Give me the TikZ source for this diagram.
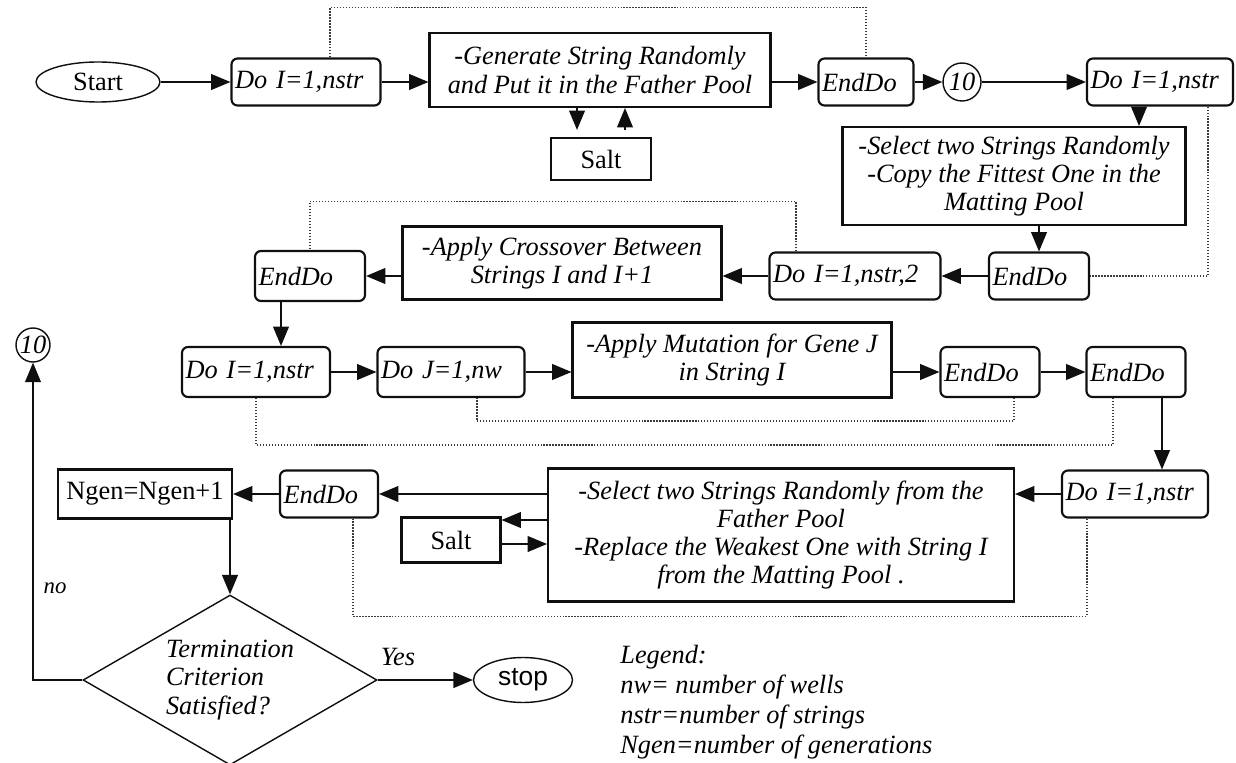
\documentclass[tikz,border=0pt]{standalone}
\usepackage{fontspec}
\setmainfont{Liberation Serif}
\newfontfamily\stopfont{Liberation Sans}
\usepackage{tikz}
\usepackage{xcolor}
\usetikzlibrary{shapes,arrows.meta,shapes.geometric}
\definecolor{ink}{RGB}{15,15,15}
\definecolor{dots}{RGB}{60,60,60}
\newcommand{\figfont}{\fontsize{15}{16}\selectfont}
\tikzstyle{flow} = [
    line width=0.8pt,
    -{Triangle[length=11pt,width=9pt]},
    draw=ink
]
\tikzstyle{loopline} = [
    densely dotted,
    line width=0.7pt,
    draw=dots
]
\tikzstyle{dobox} = [
    rectangle,
    rounded corners=1.2mm,
    minimum height=0.94cm,
    inner xsep=2pt,
    align=left,
    draw=ink,
    line width=1.2pt,
    font=\figfont\itshape
]
\tikzstyle{task} = [
    rectangle,
    align=center,
    inner sep=0pt,
    draw=ink,
    line width=1.2pt,
    font=\figfont\itshape
]

\begin{document}
\begin{tikzpicture}[x=0.02cm,y=-0.02cm]
    \useasboundingbox (0,0) rectangle (1236,763);

    % Father pool
    \node[ellipse, draw=ink, line width=0.8pt, minimum width=2.48cm, minimum height=0.8cm, inner sep=0pt, font=\figfont] (start) at (98,82) {Start};
    \node[dobox, text width=2.84cm] (doA) at (306,82) {Do I=1,nstr};
    \node[task, minimum width=6.82cm, minimum height=1.48cm] (gen) at (600,70) {-Generate String Randomly\\and Put it in the Father Pool};
    \node[task, minimum width=2cm, minimum height=0.84cm, font=\figfont] (salt1) at (601,159) {Salt};
    \node[dobox, text width=1.76cm] (endA) at (866,82) {EndDo};
    \node[circle, draw=ink, line width=0.8pt, minimum size=0.76cm, inner sep=0pt, font=\figfont\itshape] (c10) at (962,82) {10};
    \node[dobox, text width=2.78cm] (doB) at (1160,82) {Do I=1,nstr};

    % Selection
    \node[task, minimum width=6.86cm, minimum height=1.96cm] (sel1) at (1014,176) {-Select two Strings Randomly\\-Copy the Fittest One in the\\Matting Pool};

    % Crossover
    \node[dobox, text width=1.86cm] (endB) at (1039,276) {EndDo};
    \node[dobox, text width=3.28cm] (doC) at (855,276) {Do I=1,nstr,2};
    \node[task, minimum width=6.38cm, minimum height=1.46cm] (cross) at (562,263) {-Apply Crossover Between\\Strings I and I+1};
    \node[dobox, text width=2.06cm, minimum height=1cm] (endC) at (310,276) {EndDo};

    % Mutation
    \node[dobox, text width=2.82cm, minimum height=1cm] (doD) at (256,372) {Do I=1,nstr};
    \node[dobox, text width=2.8cm, minimum height=1cm] (doJ) at (451,372) {Do J=1,nw};
    \node[task, minimum width=6.38cm, minimum height=1.5cm] (mut) at (732,360) {-Apply Mutation for Gene J\\in String I};
    \node[dobox, text width=1.84cm, minimum height=1cm] (endD) at (990,372) {EndDo};
    \node[dobox, text width=1.84cm, minimum height=1cm] (endE) at (1136,372) {EndDo};

    % Replacement
    \node[dobox, text width=2.78cm] (doE) at (1135,494) {Do I=1,nstr};
    \node[task, minimum width=9.32cm, minimum height=2.66cm] (sel2) at (781,535) {-Select two Strings Randomly from the\\Father Pool\\-Replace the Weakest One with String I\\from the Matting Pool .};
    \node[task, minimum width=1.98cm, minimum height=0.9cm, font=\figfont] (salt2) at (451,540) {Salt};
    \node[dobox, text width=1.82cm] (endF) at (329,494) {EndDo};
    \node[task, minimum width=3.48cm, minimum height=0.98cm, font=\figfont] (ngen) at (145,494) {Ngen=Ngen+1};

    % Termination
    \node[diamond, draw=ink, line width=0.8pt, aspect=1.73, inner sep=0pt, align=left, minimum width=5.88cm, minimum height=3.4cm, font=\figfont\itshape] (dia) at (230,680) {Termination\\Criterion\\Satisfied?};
    \node[circle, draw=ink, line width=0.8pt, minimum size=0.68cm, inner sep=0pt, font=\figfont\itshape] (c10b) at (33,345) {10};
    \node[font=\fontsize{13}{14}\selectfont\itshape] (no) at (55,588) {no};
    \node[font=\figfont\itshape] (yes) at (398,657) {Yes};
    \node[ellipse, draw=ink, line width=0.8pt, minimum width=1.98cm, minimum height=0.9cm, inner sep=0pt, font=\figfont\stopfont] (stop) at (523,680) {stop};
    \node[anchor=north west, align=left, inner sep=0pt, font=\fontsize{15}{17}\selectfont\itshape] (legend) at (620,645) {Legend:\\nw= number of wells\\nstr=number of strings\\Ngen=number of generations};

    % First row connectors
    \draw[flow] (start) -- (doA);
    \draw[flow] (doA) -- (doA -| gen.west);
    \draw[flow] (endA -| gen.east) -- (endA);
    \draw[flow] (endA) -- (c10);
    \draw[flow] (c10) -- (doB);
    \draw[flow, shorten >=4pt] ([xshift=-0.46cm]gen.south) -- ([xshift=-0.46cm]gen.south |- salt1.north);
    \draw[flow, shorten <=4pt] ([xshift=0.5cm]gen.south |- salt1.north) -- ([xshift=0.5cm]gen.south);
    \draw[loopline] ([xshift=0.48cm]doA.north) -- ++(0,1cm) -| (endA.north);
    \draw[flow] ([xshift=-0.42cm]doB.south) -- ([xshift=-0.42cm]doB.south |- sel1.north);

    % Second row connectors
    \draw[flow] (sel1.south -| endB) -- (endB);
    \draw[loopline] ([xshift=0.96cm]doB.south) |- (endB.east);
    \draw[flow] (endB) -- (doC);
    \draw[flow] (doC) -- (doC -| cross.east);
    \draw[flow] (endC -| cross.west) -- (endC);
    \draw[loopline] ([xshift=-1.18cm]doC.north) -- ++(0,1cm) -| (endC.north);
    \draw[flow] ([xshift=-0.58cm]endC.south) -- ([xshift=-0.58cm]endC.south |- doD.north);

    % Third row connectors
    \draw[flow] (doD) -- (doJ);
    \draw[flow] (doJ) -- (doJ -| mut.west);
    \draw[flow] (endD -| mut.east) -- (endD);
    \draw[flow] (endD) -- (endE);
    \draw[loopline] ([xshift=0.48cm]endD.south) -- ++(0,-0.46cm) -| ([xshift=0.52cm]doJ.south);
    \draw[loopline] ([xshift=-0.46cm]endE.south) -- ++(0,-0.94cm) -| (doD.south);
    \draw[flow] ([xshift=0.52cm]endE.south) -- ([xshift=0.52cm]endE.south |- doE.north);

    % Fourth row connectors
    \coordinate (saltin) at ([yshift=0.4cm]salt2.east);
    \coordinate (saltout) at ([yshift=-0.08cm]salt2.east);
    \draw[flow] (doE) -- (doE -| sel2.east);
    \draw[flow] (doE -| sel2.west) -- (endF);
    \draw[flow] (endF) -- (ngen);
    \draw[flow] (saltin -| sel2.west) -- (saltin);
    \draw[flow] (saltout) -- (saltout -| sel2.west);
    \draw[loopline] ([xshift=-0.96cm]doE.south) -- ++(0,-1.96cm) -| ([xshift=0.48cm]endF.south);

    % Termination test
    \draw[flow] (dia.north |- ngen.south) -- (dia.north);
    \draw[flow] (dia.east) -- (stop);
    \draw[flow, line width=0.6pt] (dia.west) -| (c10b);
\end{tikzpicture}
\end{document}
